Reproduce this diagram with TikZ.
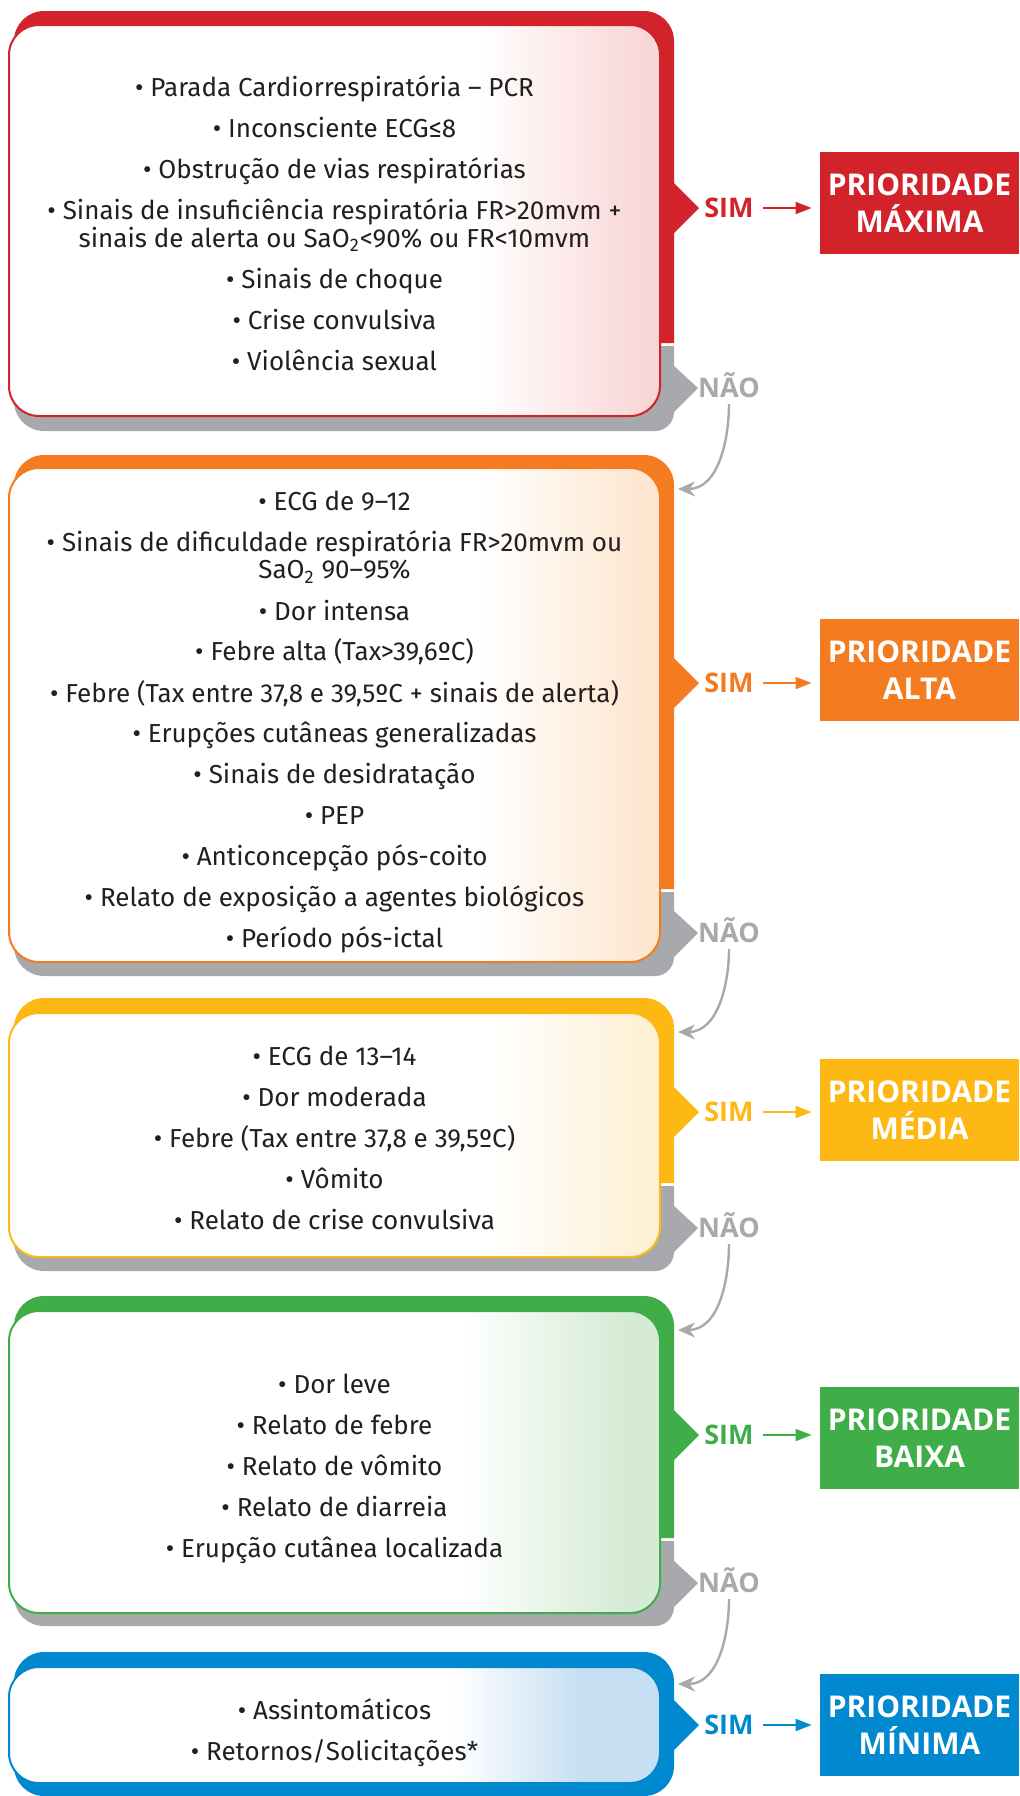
\documentclass[tikz,border=0pt]{standalone}
\usepackage{fontspec}
\setmainfont{Fira Sans}
\newfontfamily\prioridadefont{Open Sans}
\usepackage{tikz}
\usetikzlibrary{positioning, arrows.meta}

\definecolor{cred}{HTML}{D2232A}
\definecolor{corange}{HTML}{F47B20}
\definecolor{cyellow}{HTML}{FDB813}
\definecolor{cgreen}{HTML}{3FAE49}
\definecolor{cblue}{HTML}{0089CF}
\definecolor{cgray}{HTML}{A7A9AC}
\definecolor{ctext}{HTML}{231F20}
\definecolor{redtint}{HTML}{F9D6D6}
\definecolor{orangetint}{HTML}{FDE6CF}
\definecolor{yellowtint}{HTML}{FEF0D4}
\definecolor{greentint}{HTML}{D6EBD6}
\definecolor{bluetint}{HTML}{C6DFF2}

\pgfdeclarehorizontalshading{redfade}{100bp}{color(0bp)=(white); color(61bp)=(white); color(74bp)=(redtint); color(100bp)=(redtint)}
\pgfdeclarehorizontalshading{orangefade}{100bp}{color(0bp)=(white); color(61bp)=(white); color(74bp)=(orangetint); color(100bp)=(orangetint)}
\pgfdeclarehorizontalshading{yellowfade}{100bp}{color(0bp)=(white); color(62bp)=(white); color(74bp)=(yellowtint); color(100bp)=(yellowtint)}
\pgfdeclarehorizontalshading{greenfade}{100bp}{color(0bp)=(white); color(60bp)=(white); color(72bp)=(greentint); color(100bp)=(greentint)}
\pgfdeclarehorizontalshading{bluefade}{100bp}{color(0bp)=(white); color(59bp)=(white); color(69bp)=(bluetint); color(100bp)=(bluetint)}

\begin{document}
\begin{tikzpicture}[x=0.5pt, y=-0.5pt,
    whitebox/.style={shade, draw=#1, line width=1pt, rounded corners=15pt},
    items/.style={align=center, text=ctext, font=\fontsize{13}{14}\selectfont},
    sim/.style={text=#1, inner sep=0pt, text height=9.6pt, text depth=0pt, font=\prioridadefont\bfseries\fontsize{13.5}{15}\selectfont},
    nao/.style={sim=cgray},
    prio/.style={fill=#1, text=white, align=center, minimum width=99.5pt, minimum height=51pt, font=\prioridadefont\bfseries\fontsize{15}{18.5}\selectfont},
    simarrow/.style={draw=#1, line width=1pt, -{Triangle[length=8pt,width=6pt]}, shorten <=4.5pt, shorten >=4pt},
    naoarrow/.style={draw=cgray, line width=1.2pt, -{Stealth[length=8.5pt,width=7.5pt]}, shorten <=3pt}
  ]
  \useasboundingbox (0,0) rectangle (1019,1796);

  % prioridade maxima
  \fill[cred] (14,343) -- (14,41) arc[start angle=180,end angle=90,radius=15pt] -- (644,11) arc[start angle=90,end angle=0,radius=15pt] -- (674,183) -- (699,208) -- (674,233) -- (674,343) -- cycle;
  \fill[cgray] (14,346) -- (674,346) -- (674,366) -- (698,388) -- (674,412) arc[start angle=0,end angle=-90,radius=9.5pt] -- (44,431) arc[start angle=-90,end angle=-180,radius=15pt] -- cycle;
  \path[whitebox=cred, shading=redfade] (9,25) rectangle (660,416);
  \node[items] (itens1) at (334.5,223) {• Parada Cardiorrespiratória – PCR\\[6.5pt]
    • Inconsciente ECG≤8\\[6.5pt]
    • Obstrução de vias respiratórias\\[6.5pt]
    • Sinais de insuficiência respiratória FR>20mvm +\\
    sinais de alerta ou SaO\textsubscript{2}<90\% ou FR<10mvm\\[6.5pt]
    • Sinais de choque\\[6.5pt]
    • Crise convulsiva\\[6.5pt]
    • Violência sexual};
  \node[sim=cred] (sim1) at (729,208) {SIM};
  \node[nao] (nao1) at (729,388) {NÃO};
  \node[prio=cred] (pmax) at (919.5,203) {PRIORIDADE\\MÁXIMA};
  \draw[simarrow=cred] (sim1) -- (sim1 -| pmax.west);

  % prioridade alta
  \fill[corange] (14,889) -- (14,485) arc[start angle=180,end angle=90,radius=15pt] -- (644,455) arc[start angle=90,end angle=0,radius=15pt] -- (674,658) -- (699,683) -- (674,708) -- (674,889) -- cycle;
  \fill[cgray] (14,892) -- (674,892) -- (674,911) -- (698,933) -- (674,957) arc[start angle=0,end angle=-90,radius=9.5pt] -- (44,976) arc[start angle=-90,end angle=-180,radius=15pt] -- cycle;
  \path[whitebox=corange, shading=orangefade] (9,468) rectangle (660,962);
  \node[items] (itens2) at (334.5,722) {• ECG de 9–12\\[6.5pt]
    • Sinais de dificuldade respiratória FR>20mvm ou\\
    SaO\textsubscript{2} 90–95\%\\[6.5pt]
    • Dor intensa\\[6.5pt]
    • Febre alta (Tax>39,6ºC)\\[6.5pt]
    • Febre (Tax entre 37,8 e 39,5ºC + sinais de alerta)\\[6.5pt]
    • Erupções cutâneas generalizadas\\[6.5pt]
    • Sinais de desidratação\\[6.5pt]
    • PEP\\[6.5pt]
    • Anticoncepção pós-coito\\[6.5pt]
    • Relato de exposição a agentes biológicos\\[6.5pt]
    • Período pós-ictal};
  \node[sim=corange] (sim2) at (729,683) {SIM};
  \node[nao] (nao2) at (729,933) {NÃO};
  \node[prio=corange] (palta) at (919.5,670) {PRIORIDADE\\ALTA};
  \draw[simarrow=corange] (sim2) -- (sim2 -| palta.west);
  \coordinate (entrada2) at (678,489);
  \draw[naoarrow] (nao1) to[out=-90,in=0] (entrada2);

  % prioridade media
  \fill[cyellow] (14,1183) -- (14,1028) arc[start angle=180,end angle=90,radius=15pt] -- (644,998) arc[start angle=90,end angle=0,radius=15pt] -- (674,1087) -- (699,1112) -- (674,1137) -- (674,1183) -- cycle;
  \fill[cgray] (14,1186) -- (674,1186) -- (674,1206) -- (698,1228) -- (674,1252) arc[start angle=0,end angle=-90,radius=9.5pt] -- (44,1271) arc[start angle=-90,end angle=-180,radius=15pt] -- cycle;
  \path[whitebox=cyellow, shading=yellowfade] (9,1013) rectangle (660,1257);
  \node[items] (itens3) at (334.5,1138) {• ECG de 13–14\\[6.5pt]
    • Dor moderada\\[6.5pt]
    • Febre (Tax entre 37,8 e 39,5ºC)\\[6.5pt]
    • Vômito\\[6.5pt]
    • Relato de crise convulsiva};
  \node[sim=cyellow] (sim3) at (729,1112) {SIM};
  \node[nao] (nao3) at (729,1228) {NÃO};
  \node[prio=cyellow] (pmedia) at (919.5,1110) {PRIORIDADE\\MÉDIA};
  \draw[simarrow=cyellow] (sim3) -- (sim3 -| pmedia.west);
  \coordinate (entrada3) at (678,1032);
  \draw[naoarrow] (nao2) to[out=-90,in=0] (entrada3);

  % prioridade baixa
  \fill[cgreen] (14,1538) -- (14,1326) arc[start angle=180,end angle=90,radius=15pt] -- (644,1296) arc[start angle=90,end angle=0,radius=15pt] -- (674,1410) -- (699,1435) -- (674,1460) -- (674,1538) -- cycle;
  \fill[cgray] (14,1541) -- (674,1541) -- (674,1561) -- (698,1583) -- (674,1607) arc[start angle=0,end angle=-90,radius=9.5pt] -- (44,1626) arc[start angle=-90,end angle=-180,radius=15pt] -- cycle;
  \path[whitebox=cgreen, shading=greenfade] (9,1311) rectangle (660,1613);
  \node[items] (itens4) at (334.5,1469) {• Dor leve\\[6.5pt]
    • Relato de febre\\[6.5pt]
    • Relato de vômito\\[6.5pt]
    • Relato de diarreia\\[6.5pt]
    • Erupção cutânea localizada};
  \node[sim=cgreen] (sim4) at (729,1435) {SIM};
  \node[nao] (nao4) at (729,1583) {NÃO};
  \node[prio=cgreen] (pbaixa) at (919.5,1438) {PRIORIDADE\\BAIXA};
  \draw[simarrow=cgreen] (sim4) -- (sim4 -| pbaixa.west);
  \coordinate (entrada4) at (678,1330);
  \draw[naoarrow] (nao3) to[out=-90,in=0] (entrada4);

  % prioridade minima
  \fill[cblue] (14,1766) -- (14,1682) arc[start angle=180,end angle=90,radius=15pt] -- (644,1652) arc[start angle=90,end angle=0,radius=15pt] -- (674,1700) -- (699,1725) -- (674,1750) -- (674,1766) arc[start angle=0,end angle=-90,radius=15pt] -- (44,1796) arc[start angle=-90,end angle=-180,radius=15pt] -- cycle;
  \path[whitebox=cblue, shading=bluefade] (9,1667) rectangle (660,1783);
  \node[items] (itens5) at (334.5,1733) {• Assintomáticos\\[6.5pt]
    • Retornos/Solicitações*};
  \node[sim=cblue] (sim5) at (729,1725) {SIM};
  \node[prio=cblue] (pmin) at (919.5,1725) {PRIORIDADE\\MÍNIMA};
  \draw[simarrow=cblue] (sim5) -- (sim5 -| pmin.west);
  \coordinate (entrada5) at (678,1684);
  \draw[naoarrow] (nao4) to[out=-90,in=0] (entrada5);
\end{tikzpicture}
\end{document}
